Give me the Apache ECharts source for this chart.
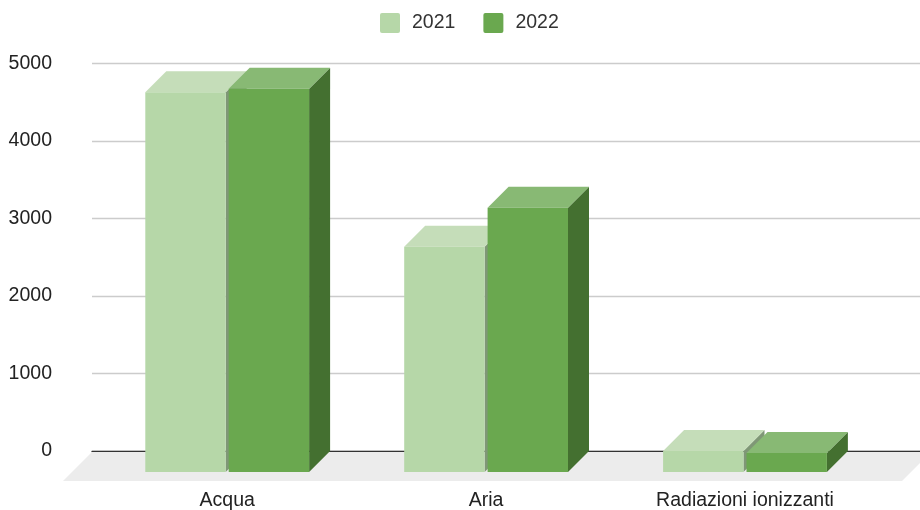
<!DOCTYPE html>
<html>
<head>
<meta charset="utf-8">
<style>html,body{margin:0;padding:0;background:#fff}#c{width:920px;height:510px}</style>
<script src="https://cdn.jsdelivr.net/npm/echarts@6/dist/echarts.min.js"></script>
</head>
<body>
<div id="c"></div>
<script>
var categories = ['Acqua', 'Aria', 'Radiazioni ionizzanti'];
var yTicks = [0, 1000, 2000, 3000, 4000, 5000];
var values2021 = [4900, 2905, 270];
var values2022 = [4945, 3410, 245];

var FONT = '"Liberation Sans", Arial, sans-serif';
var FS = 19.5;
var DX = 21, DY = 21, BAR = 80.4, GAP = 3;
var ICON = 'path://M2 0H18Q20 0 20 2V18Q20 20 18 20H2Q0 20 0 18V2Q0 0 2 0Z';

function barRenderer(dir, front, top, side) {
  return function (params, api) {
    var c = api.coord([api.value(0), api.value(1)]);
    var base = api.coord([api.value(0), 0]);
    var xl = dir < 0 ? c[0] - GAP / 2 - BAR : c[0] + GAP / 2;
    var xr = xl + BAR;
    var yt = c[1] + DY, yb = base[1] + DY;
    return {
      type: 'group',
      children: [
        { type: 'polygon', shape: { points: [[xr, yt], [xr + DX, yt - DY], [xr + DX, yb - DY], [xr, yb]] }, style: { fill: side } },
        { type: 'polygon', shape: { points: [[xl, yt], [xl + DX, yt - DY], [xr + DX, yt - DY], [xr, yt]] }, style: { fill: top } },
        { type: 'rect', shape: { x: xl, y: yt, width: BAR, height: yb - yt }, style: { fill: front } }
      ]
    };
  };
}

function floorRenderer(params, api) {
  var s = params.coordSys, o = api.coord([0, 0]);
  var y0 = o[1] + 1, y1 = o[1] + 30;
  return {
    type: 'polygon',
    shape: { points: [[s.x, y0], [s.x + s.width + 11, y0], [s.x + s.width - 18, y1], [s.x - 29, y1]] },
    style: { fill: '#ececec' }
  };
}

function toPairs(arr) { return arr.map(function (v, i) { return [i, v]; }); }
function plain(v) { return String(v); }

var chart = echarts.init(document.getElementById('c'), null, { renderer: 'canvas' });
chart.setOption({
  animation: false,
  backgroundColor: '#fff',
  textStyle: { fontFamily: FONT },
  legend: {
    data: ['2021', '2022'], left: 380, top: 13, padding: 0, itemWidth: 20, itemHeight: 20, itemGap: 28,
    icon: ICON, selectedMode: false,
    textStyle: { fontFamily: FONT, fontSize: FS, color: '#333', padding: [2, 0, 0, 7] }
  },
  grid: [
    { left: 92, right: 0, top: 63.5, height: 387.5, outerBoundsMode: 'none' },
    { left: 97.75, width: 776.7, top: 63.5, height: 387.5, outerBoundsMode: 'none' }
  ],
  xAxis: [
    { gridIndex: 0, type: 'category', data: categories, axisLine: { lineStyle: { color: '#333', width: 1.3 } }, axisTick: { show: false }, axisLabel: { show: false }, splitLine: { show: false } },
    { gridIndex: 1, type: 'category', data: categories, axisLine: { show: false }, axisTick: { show: false }, splitLine: { show: false },
      axisLabel: { margin: 40, fontFamily: FONT, fontSize: FS, color: '#222' } }
  ],
  yAxis: [
    { gridIndex: 0, type: 'value', min: yTicks[0], max: yTicks[yTicks.length - 1], interval: yTicks[1] - yTicks[0],
      axisLine: { show: false }, axisTick: { show: false },
      axisLabel: { margin: 40, fontFamily: FONT, fontSize: FS, color: '#222', formatter: plain },
      splitLine: { lineStyle: { color: '#ccc', width: 1.3 } } },
    { gridIndex: 1, type: 'value', min: yTicks[0], max: yTicks[yTicks.length - 1], interval: yTicks[1] - yTicks[0], show: false, splitLine: { show: false } }
  ],
  series: [
    { type: 'custom', xAxisIndex: 0, yAxisIndex: 0, silent: true, clip: false, z: 1, data: [[0, 0]], renderItem: floorRenderer, encode: { x: 0, y: 1 } },
    { name: '2021', type: 'custom', xAxisIndex: 1, yAxisIndex: 1, clip: false, z: 2, itemStyle: { color: '#b6d7a8' },
      data: toPairs(values2021), encode: { x: 0, y: 1 }, renderItem: barRenderer(-1, '#b6d7a8', '#c5ddb9', '#7f9776') },
    { name: '2022', type: 'custom', xAxisIndex: 1, yAxisIndex: 1, clip: false, z: 3, itemStyle: { color: '#6aa84f' },
      data: toPairs(values2022), encode: { x: 0, y: 1 }, renderItem: barRenderer(1, '#6aa84f', '#88b974', '#447030') }
  ]
});
</script>
</body>
</html>
